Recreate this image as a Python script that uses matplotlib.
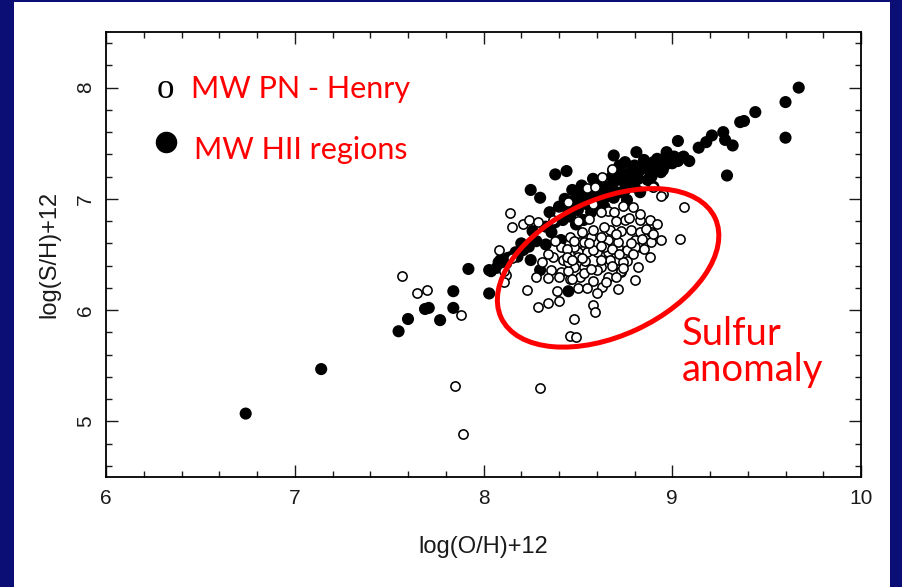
import matplotlib.pyplot as plt
from matplotlib.patches import Ellipse, Rectangle
from matplotlib.transforms import ScaledTranslation
from matplotlib.ticker import MultipleLocator

# MW HII regions (filled): log(O/H)+12, log(S/H)+12
hii_oh = [6.74, 7.14, 7.55, 7.60, 7.69, 7.71, 7.77, 7.84, 7.84, 7.92, 8.03, 8.04, 8.07,
          8.09, 8.15, 8.21, 8.24, 8.13, 8.18, 8.25, 8.30, 8.45, 8.26, 8.36, 8.38, 8.42,
          8.45, 8.48, 8.51, 8.55, 8.58, 8.62, 8.66, 8.69, 8.73, 8.76, 8.80, 8.83, 8.87,
          8.90, 8.94, 8.98, 9.01, 9.05, 9.09, 8.25, 8.30, 8.38, 8.44, 8.43, 8.51, 8.69,
          8.75, 8.81, 8.84, 8.92, 9.03, 9.14, 9.18, 9.21, 9.27, 9.32, 9.29, 9.36, 8.73,
          8.76, 8.80, 8.69, 8.64, 8.57, 8.53, 8.87, 8.90, 8.83, 9.67, 9.60, 9.44, 9.38,
          9.60, 9.28, 9.03, 9.06, 8.94, 8.73, 8.67, 8.78, 8.95, 8.89, 8.46, 8.03, 8.08,
          8.49, 8.59, 8.41, 8.33,
          8.35, 8.40, 8.47, 8.50, 8.55, 8.60, 8.62, 8.65, 8.68, 8.70, 8.72, 8.78, 8.80,
          8.82, 8.85, 8.88, 8.92, 8.96, 9.00, 8.58, 8.52, 8.47, 8.33, 8.28, 8.20, 8.17,
          8.12, 8.75, 8.97]
hii_sh = [5.07, 5.47, 5.81, 5.92, 6.01, 6.02, 5.91, 6.17, 6.02, 6.37, 6.15, 6.35, 6.38,
          6.45, 6.48, 6.54, 6.57, 6.47, 6.48, 6.45, 6.36, 6.17, 6.71, 6.70, 6.79, 6.81,
          6.88, 6.92, 6.99, 7.04, 7.06, 7.08, 7.11, 7.15, 7.17, 7.20, 7.24, 7.26, 7.29,
          7.33, 7.35, 7.35, 7.38, 7.37, 7.34, 7.08, 7.01, 7.22, 7.25, 7.00, 7.04, 7.39,
          7.33, 7.42, 7.29, 7.36, 7.52, 7.46, 7.51, 7.57, 7.60, 7.48, 7.21, 7.69, 7.06,
          6.99, 7.11, 7.01, 6.93, 6.88, 6.81, 7.17, 7.11, 7.06, 8.00, 7.87, 7.78, 7.70,
          7.55, 7.53, 7.34, 7.38, 7.24, 7.24, 7.11, 7.24, 7.26, 7.20, 6.84, 6.36, 6.43,
          6.77, 6.95, 6.63, 6.59,
          6.88, 6.93, 6.98, 6.90, 6.95, 7.00, 7.14, 7.02, 7.20, 7.06, 7.30, 7.15, 7.30,
          7.18, 7.35, 7.25, 7.28, 7.30, 7.32, 7.18, 7.12, 7.08, 6.75, 6.62, 6.60, 6.52,
          6.42, 7.08, 7.42]

# MW PN - Henry (open)
pn_oh = [7.57, 7.65, 7.70, 7.88, 7.85, 7.89, 8.30, 8.08, 8.12, 8.11, 8.23, 8.14, 8.15,
         8.21, 8.24, 8.29, 8.37, 8.45, 8.55, 8.59, 8.63, 8.68, 8.66, 8.69, 8.74, 8.79,
         8.75, 8.83, 8.88, 8.92, 8.95, 9.06, 9.04, 8.94, 8.89, 8.88, 8.80, 8.83, 8.76,
         8.71, 8.66, 8.62, 8.57, 8.51, 8.50, 8.55, 8.60, 8.66, 8.71, 8.76, 8.82, 8.62,
         8.53, 8.48, 8.42, 8.37, 8.41, 8.46, 8.67, 8.73, 8.78, 8.83, 8.89, 8.41, 8.36,
         8.73, 8.15, 8.11, 8.28, 8.34, 8.40, 8.29, 8.34, 8.40, 8.39, 8.48, 8.46, 8.49,
         8.50, 8.46, 8.51, 8.45, 8.58, 8.55, 8.58, 8.59, 8.54, 8.50, 8.45, 8.48, 8.53,
         8.58, 8.80, 8.71, 8.63, 8.74, 8.73, 8.66, 8.60, 8.67, 8.80, 8.64, 8.71, 8.68,
         8.94, 8.90,
         8.44, 8.52, 8.56, 8.62, 8.68, 8.72, 8.78, 8.84, 8.86, 8.70, 8.64, 8.58, 8.52,
         8.48, 8.44, 8.47, 8.53, 8.57, 8.62, 8.68, 8.74, 8.79, 8.85, 8.90, 8.56, 8.62,
         8.70, 8.77, 8.83, 8.58, 8.50, 8.38, 8.34, 8.31, 8.47, 8.65, 8.60, 8.70]
pn_sh = [6.31, 6.15, 6.18, 5.96, 5.32, 4.89, 5.30, 6.54, 6.32, 6.25, 6.18, 6.87, 6.75,
         6.77, 6.81, 6.79, 6.81, 6.97, 7.10, 7.11, 7.20, 7.26, 6.89, 6.88, 6.94, 6.93,
         6.81, 6.81, 6.81, 6.77, 7.04, 6.93, 6.64, 6.63, 6.61, 6.48, 6.63, 6.57, 6.54,
         6.57, 6.63, 6.66, 6.66, 6.61, 6.52, 6.52, 6.52, 6.52, 6.45, 6.44, 6.39, 6.39,
         6.39, 6.39, 6.45, 6.48, 6.57, 6.66, 6.72, 6.71, 6.72, 6.70, 6.70, 6.34, 6.36,
         6.34, 6.47, 6.35, 6.30, 6.29, 6.30, 6.03, 6.06, 6.08, 6.17, 5.92, 5.77, 5.76,
         6.20, 6.28, 6.30, 6.35, 6.26, 6.20, 6.05, 5.98, 6.44, 6.48, 6.43, 6.57, 6.61,
         6.54, 6.27, 6.19, 6.21, 6.43, 6.35, 6.30, 6.36, 6.45, 6.57, 6.57, 6.61, 7.27,
         7.03, 7.11,
         6.55, 6.47, 6.60, 6.58, 6.55, 6.50, 6.60, 6.64, 6.73, 6.68, 6.75, 6.72, 6.70,
         6.62, 6.48, 6.28, 6.33, 6.37, 6.45, 6.40, 6.38, 6.50, 6.55, 6.68, 6.82, 6.88,
         6.80, 6.83, 6.86, 6.95, 6.80, 6.62, 6.50, 6.43, 6.45, 6.25, 6.15, 6.30]

navy = '#0b0e75'
red = '#ff0000'

plt.rcParams['font.family'] = ['Liberation Sans', 'DejaVu Sans']

fig = plt.figure(figsize=(9.03, 5.87), dpi=100, facecolor=navy)
# white slide area behind the axes
fig.patches.append(Rectangle((14 / 903, 0.0), 876 / 903, 585 / 587,
                             transform=fig.transFigure, facecolor='white',
                             edgecolor='none', zorder=-5))

ax = fig.add_axes([0.1174, 0.1874, 0.8361, 0.7581])
ax.set_facecolor('white')
ax.set_xlim(6, 10)
ax.set_ylim(4.5, 8.5)

ax.scatter(hii_oh, hii_sh, s=76, c='black', edgecolors='none', zorder=3)
ax.scatter(pn_oh, pn_sh, s=44, facecolors='white', edgecolors='black',
           linewidths=1.15, zorder=4)

# sulfur anomaly ellipse (drawn in inches around a data-space centre)
ell = Ellipse((0, 0), 2.36, 1.36, angle=25, fill=False, edgecolor=red, lw=3.6,
              transform=fig.dpi_scale_trans + ScaledTranslation(8.66, 6.38, ax.transData),
              zorder=5)
ax.add_patch(ell)

ax.xaxis.set_major_locator(MultipleLocator(1))
ax.xaxis.set_minor_locator(MultipleLocator(0.2))
ax.yaxis.set_major_locator(MultipleLocator(1))
ax.yaxis.set_minor_locator(MultipleLocator(0.2))
ax.tick_params(which='both', direction='in', top=True, right=True, width=1.0,
               labelsize=15, colors='#1a1a1a')
ax.tick_params(which='major', length=8.5)
ax.tick_params(which='minor', length=4.5)
ax.tick_params(axis='y', labelrotation=90, pad=8)
ax.tick_params(axis='x', pad=9)
for lab in ax.get_yticklabels():
    lab.set_va('center')
for sp in ax.spines.values():
    sp.set_linewidth(1.3)

ax.set_xlabel('log(O/H)+12', fontsize=17, labelpad=20, color='#1a1a1a')
ax.set_ylabel('log(S/H)+12', fontsize=17, labelpad=11, color='#1a1a1a')

# hand-made legend
ax.text(0.0675, 0.852, 'o', transform=ax.transAxes, fontsize=25,
        family='Liberation Serif', va='baseline', ha='left')
ax.scatter([0.0795], [0.753], s=210, c='black', transform=ax.transAxes, zorder=6)
ax.text(0.112, 0.852, 'MW PN - Henry', transform=ax.transAxes, fontsize=22,
        family='Lato', color=red, va='baseline', ha='left')
ax.text(0.117, 0.715, 'MW HII regions', transform=ax.transAxes, fontsize=22,
        family='Lato', color=red, va='baseline', ha='left')

ax.text(0.762, 0.297, 'Sulfur', transform=ax.transAxes, fontsize=27.5,
        family='Lato', color=red, va='baseline', ha='left')
ax.text(0.762, 0.216, 'anomaly', transform=ax.transAxes, fontsize=27.5,
        family='Lato', color=red, va='baseline', ha='left')

fig.savefig('out.png', dpi=100, facecolor=navy)
